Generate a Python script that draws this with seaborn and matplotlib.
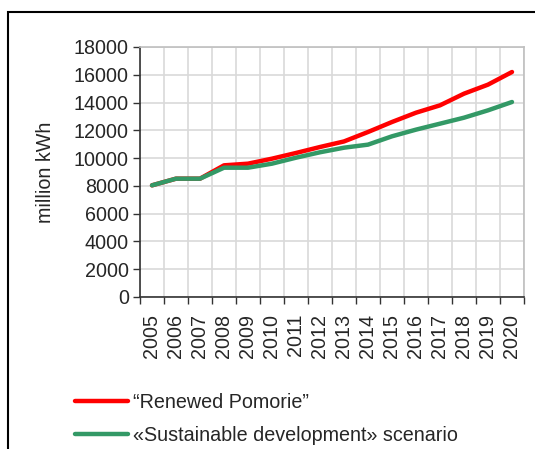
import matplotlib
matplotlib.use("Agg")
import matplotlib.pyplot as plt
import seaborn as sns
import pandas as pd
from matplotlib.patches import Rectangle

years = ["2005", "2006", "2007", "2008", "2009", "2010", "2011", "2012",
         "2013", "2014", "2015", "2016", "2017", "2018", "2019", "2020"]
renewed = [8040, 8520, 8520, 9480, 9600, 9960, 10370, 10800,
           11200, 11880, 12600, 13270, 13800, 14640, 15290, 16200]
sustainable = [8040, 8520, 8520, 9310, 9310, 9600, 10030, 10420,
               10750, 10970, 11570, 12050, 12480, 12910, 13440, 14040]
series_names = ["\u201cRenewed Pomorie\u201d", "\u00abSustainable development\u00bb scenario"]
yticks = list(range(0, 18001, 2000))

df = pd.DataFrame({
    "pos": list(range(len(years))) * 2,
    "value": renewed + sustainable,
    "series": [series_names[0]] * len(years) + [series_names[1]] * len(years),
})

sns.set_theme(style="white")
plt.rcParams["font.family"] = ["Liberation Sans", "DejaVu Sans"]
FS = 14.2

fig = plt.figure(figsize=(5.35, 4.49), dpi=100)
ax = fig.add_axes([140 / 535, 1 - 297 / 449, 384 / 535, 250 / 449])

sns.lineplot(data=df, x="pos", y="value", hue="series",
             palette={series_names[0]: "#FF0000", series_names[1]: "#339966"},
             hue_order=[series_names[0], series_names[1]],
             linewidth=3.2, ax=ax, legend=True, solid_capstyle="round")
lines = ax.get_lines()
if len(lines) >= 2:
    lines[1].set_zorder(3)
    lines[0].set_zorder(2)

ax.set_xlim(-0.5, len(years) - 0.5)
ax.set_ylim(0, 18000)
ax.set_xticks([i - 0.5 for i in range(len(years) + 1)])
ax.set_xticklabels([])
ax.set_xticks(list(range(len(years))), minor=True)
ax.set_xticklabels(years, minor=True, rotation=90, fontsize=FS)
ax.tick_params(axis="x", which="minor", length=0, pad=12)
ax.tick_params(axis="x", which="major", length=5, width=1, direction="out", color="#333333", bottom=True)
ax.set_yticks(yticks)
ax.set_yticklabels([str(v) for v in yticks], fontsize=FS)
ax.tick_params(axis="y", length=5, width=1, direction="out", color="#333333", left=True, pad=3)
ax.grid(True, which="major", color="#d9d9d9", linewidth=1.2)
ax.set_axisbelow(True)
for s in ["top", "right"]:
    ax.spines[s].set_color("#bfbfbf")
    ax.spines[s].set_linewidth(1.2)
for s in ["left", "bottom"]:
    ax.spines[s].set_color("#333333")
    ax.spines[s].set_linewidth(1.2)
ax.set_xlabel("")
ax.set_ylabel("million kWh", fontsize=FS)
ax.yaxis.set_label_coords(-0.222, 0.5)

handles, labels = ax.get_legend_handles_labels()
ax.get_legend().remove()
leg = fig.legend(handles, labels, loc="upper left",
                 bbox_to_anchor=(75 / 535, 1 - 393 / 449),
                 frameon=False, fontsize=FS, borderpad=0, borderaxespad=0,
                 handlelength=2.7, handletextpad=0.25, labelspacing=0.72)
for h in leg.get_lines():
    h.set_linewidth(3.2)

fig.patches.append(Rectangle((8 / 535, -0.1), 1.2, 1 - 12 / 449 + 0.1,
                             transform=fig.transFigure, fill=False,
                             edgecolor="black", linewidth=1.5))

fig.savefig("out.png", dpi=100)
